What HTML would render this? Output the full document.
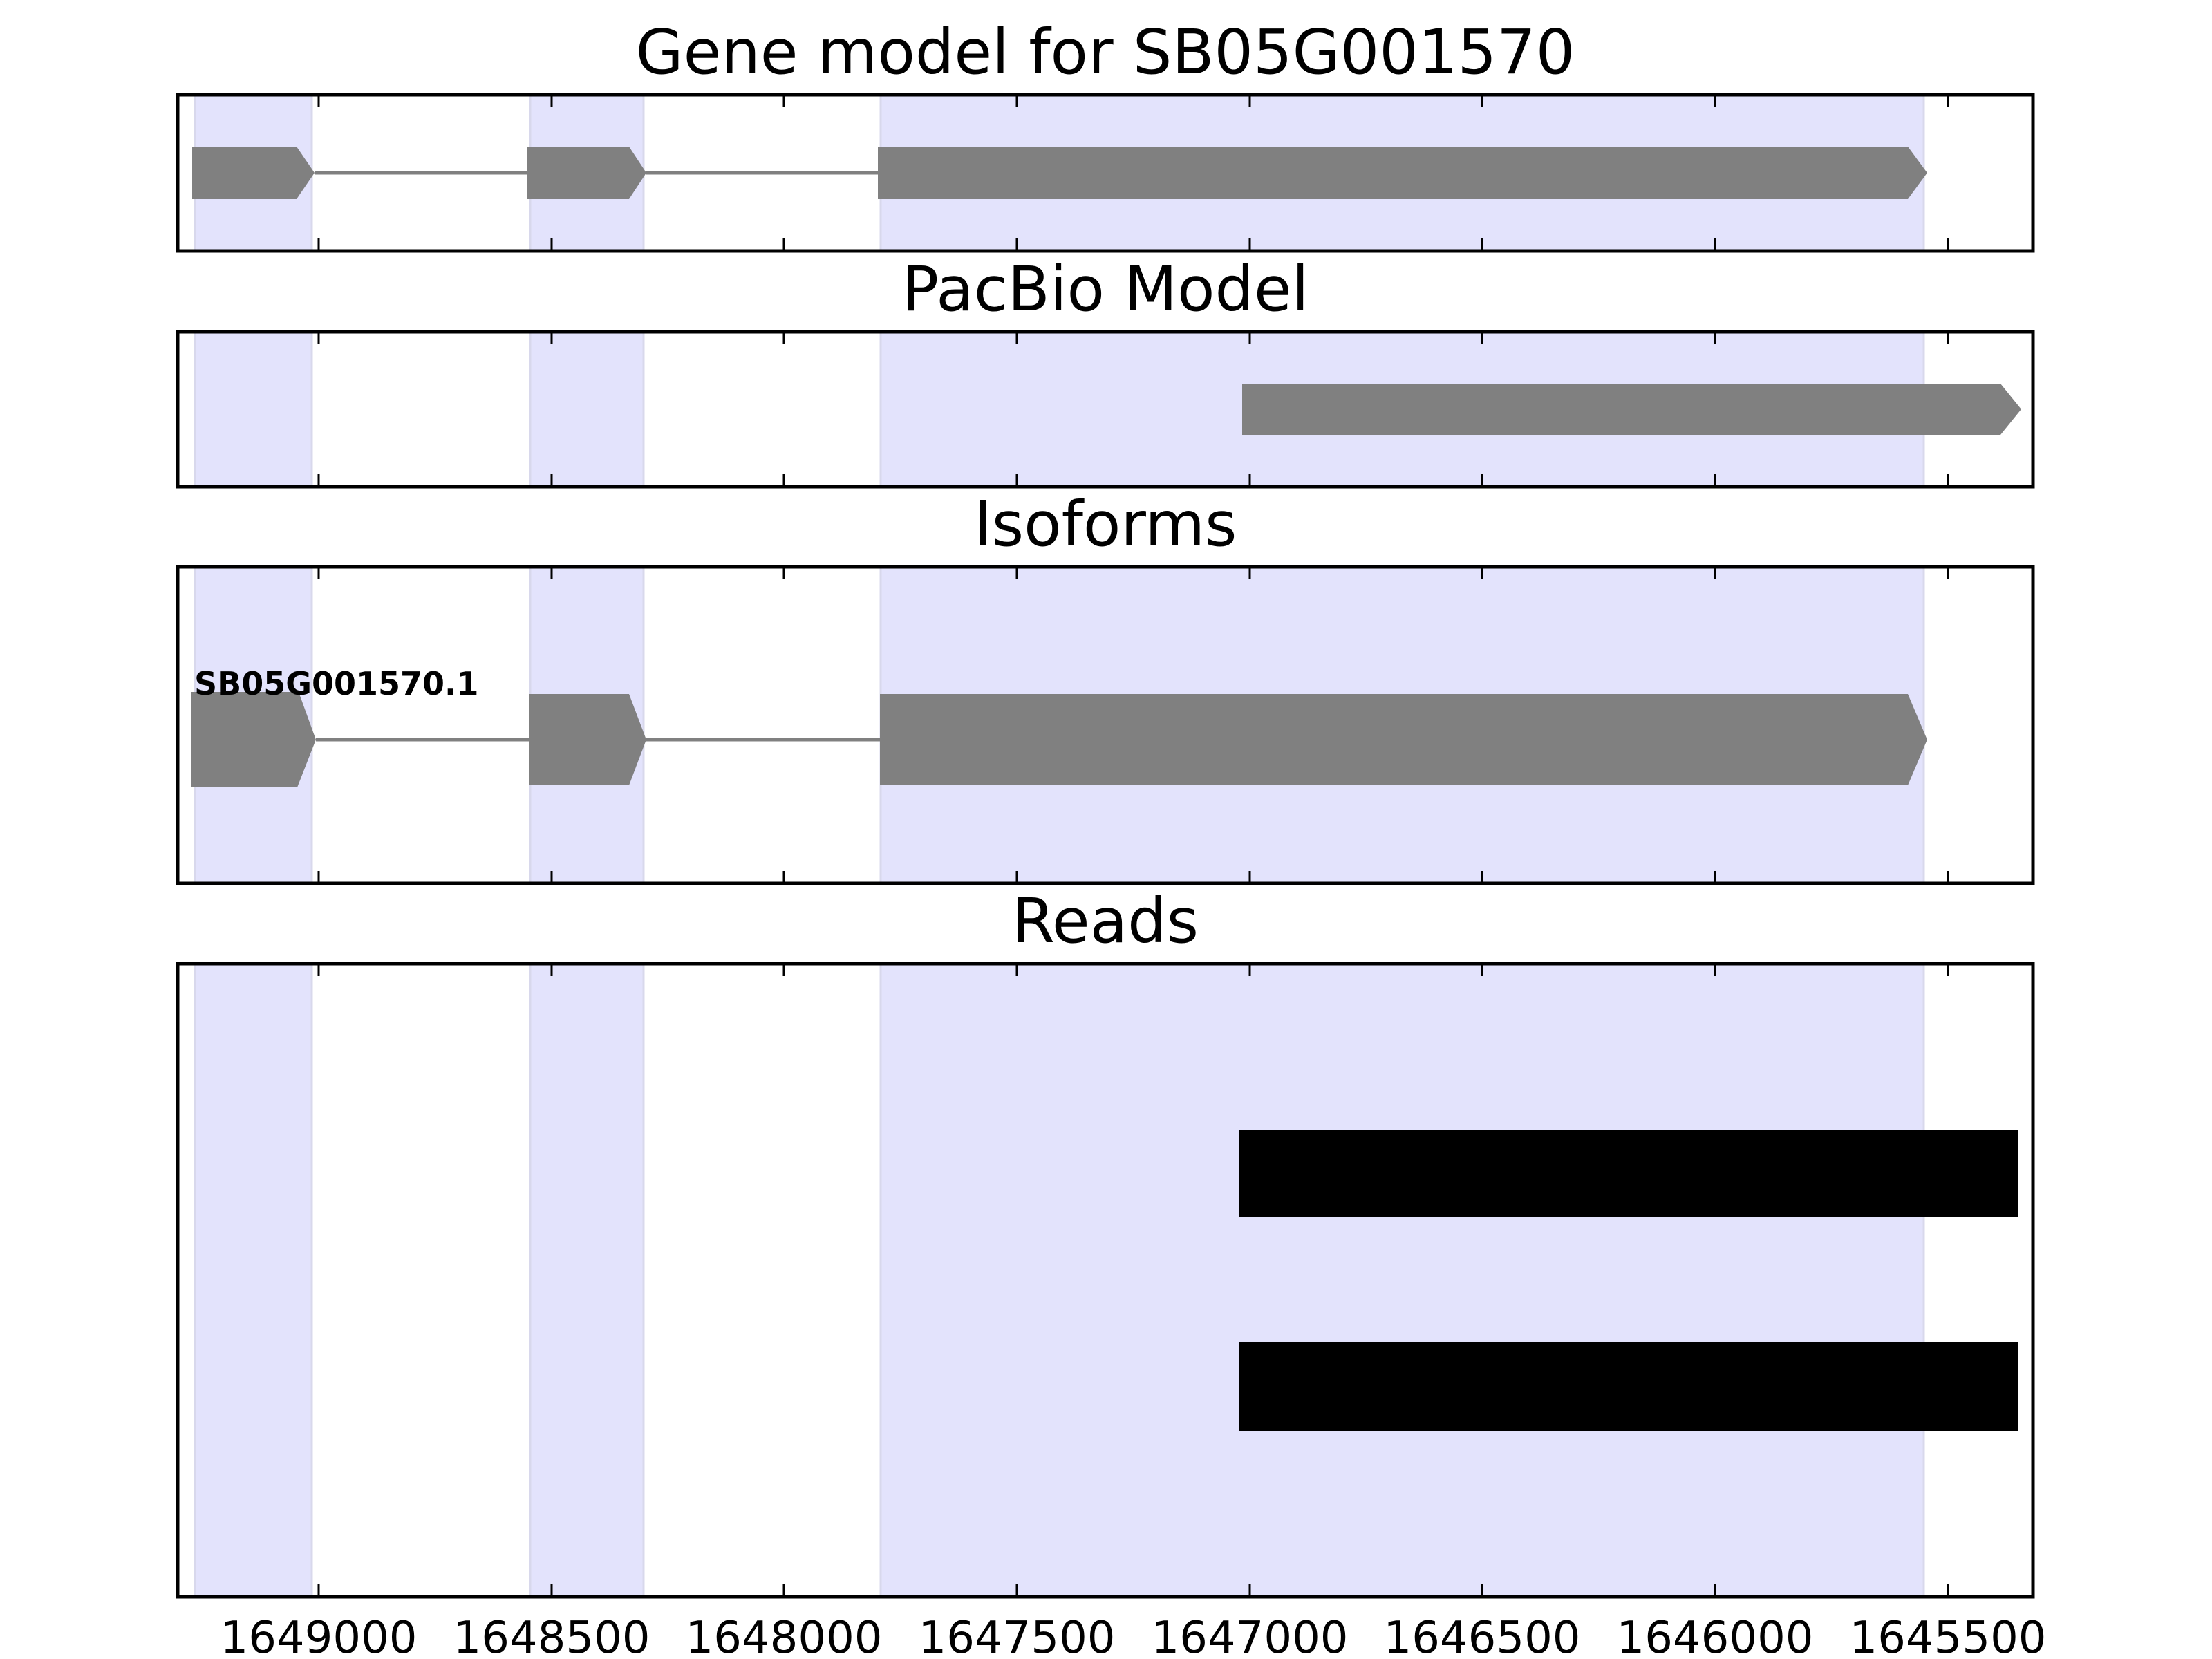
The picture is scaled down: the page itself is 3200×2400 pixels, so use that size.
<!DOCTYPE html>
<html><head><meta charset="utf-8"><style>html,body{margin:0;padding:0;background:#fff}svg{display:block}</style></head>
<body>
<svg width="3200" height="2400" viewBox="0 0 3200 2400" xmlns="http://www.w3.org/2000/svg" font-family="'DejaVu Sans','Liberation Sans',sans-serif">
<rect width="3200" height="2400" fill="#fff"/>
<defs>
<g id="bands">
<rect x="282" width="169" height="2400" fill="#e3e3fc" stroke="#d8d8ec" stroke-width="3"/>
<rect x="767" width="164" height="2400" fill="#e3e3fc" stroke="#d8d8ec" stroke-width="3"/>
<rect x="1274" width="1509" height="2400" fill="#e3e3fc" stroke="#d8d8ec" stroke-width="3"/>
</g>
<g id="ticks" stroke="#000" stroke-width="3">
<line x1="461" x2="461" y1="0" y2="20"/><line x1="798" x2="798" y1="0" y2="20"/>
<line x1="1134" x2="1134" y1="0" y2="20"/><line x1="1471" x2="1471" y1="0" y2="20"/>
<line x1="1808" x2="1808" y1="0" y2="20"/><line x1="2144" x2="2144" y1="0" y2="20"/>
<line x1="2481" x2="2481" y1="0" y2="20"/><line x1="2818" x2="2818" y1="0" y2="20"/>
</g>
<clipPath id="c1"><rect x="255" y="135" width="2688" height="230"/></clipPath>
<clipPath id="c2"><rect x="255" y="478" width="2688" height="228"/></clipPath>
<clipPath id="c3"><rect x="255" y="818" width="2688" height="462"/></clipPath>
<clipPath id="c4"><rect x="255" y="1392" width="2688" height="920"/></clipPath>
</defs>

<g clip-path="url(#c1)"><use href="#bands"/></g>
<line x1="455" y1="250" x2="763" y2="250" stroke="#808080" stroke-width="5"/>
<line x1="935" y1="250" x2="1270" y2="250" stroke="#808080" stroke-width="5"/>
<polygon points="278,212 429,212 455,250 429,288 278,288" fill="#808080"/>
<polygon points="763,212 910,212 935,250 910,288 763,288" fill="#808080"/>
<polygon points="1270,212 2760,212 2788,250 2760,288 1270,288" fill="#808080"/>
<use href="#ticks" transform="translate(0,135)"/>
<use href="#ticks" transform="translate(0,365) scale(1,-1)"/>
<rect x="257" y="137" width="2684" height="226" fill="none" stroke="#000" stroke-width="5"/>
<text x="1599" y="106" font-size="89" text-anchor="middle">Gene model for SB05G001570</text>

<g clip-path="url(#c2)"><use href="#bands"/></g>
<polygon points="1797,555 2894,555 2924,592 2894,629 1797,629" fill="#808080"/>
<use href="#ticks" transform="translate(0,478)"/>
<use href="#ticks" transform="translate(0,706) scale(1,-1)"/>
<rect x="257" y="480" width="2684" height="224" fill="none" stroke="#000" stroke-width="5"/>
<text x="1599" y="449" font-size="89" text-anchor="middle">PacBio Model</text>

<g clip-path="url(#c3)"><use href="#bands"/></g>
<line x1="457" y1="1070" x2="766" y2="1070" stroke="#808080" stroke-width="5"/>
<line x1="935" y1="1070" x2="1273" y2="1070" stroke="#808080" stroke-width="5"/>
<polygon points="277,1001 432,1001 457,1070 430,1139 277,1139" fill="#808080"/>
<polygon points="766,1004 910,1004 935,1070 910,1136 766,1136" fill="#808080"/>
<polygon points="1273,1004 2760,1004 2788,1070 2760,1136 1273,1136" fill="#808080"/>
<text x="281" y="1005" font-size="46" font-weight="bold">SB05G001570.1</text>
<use href="#ticks" transform="translate(0,818)"/>
<use href="#ticks" transform="translate(0,1280) scale(1,-1)"/>
<rect x="257" y="820" width="2684" height="458" fill="none" stroke="#000" stroke-width="5"/>
<text x="1599" y="789" font-size="89" text-anchor="middle">Isoforms</text>

<g clip-path="url(#c4)"><use href="#bands"/></g>
<rect x="1792" y="1635" width="1127" height="126" fill="#000"/>
<rect x="1792" y="1941" width="1127" height="129" fill="#000"/>
<use href="#ticks" transform="translate(0,1392)"/>
<use href="#ticks" transform="translate(0,2312) scale(1,-1)"/>
<rect x="257" y="1394" width="2684" height="916" fill="none" stroke="#000" stroke-width="5"/>
<text x="1599" y="1363" font-size="89" text-anchor="middle">Reads</text>

<g font-size="64" text-anchor="middle">
<text x="461" y="2391">1649000</text><text x="798" y="2391">1648500</text>
<text x="1134" y="2391">1648000</text><text x="1471" y="2391">1647500</text>
<text x="1808" y="2391">1647000</text><text x="2144" y="2391">1646500</text>
<text x="2481" y="2391">1646000</text><text x="2818" y="2391">1645500</text>
</g>
</svg>
</body></html>
